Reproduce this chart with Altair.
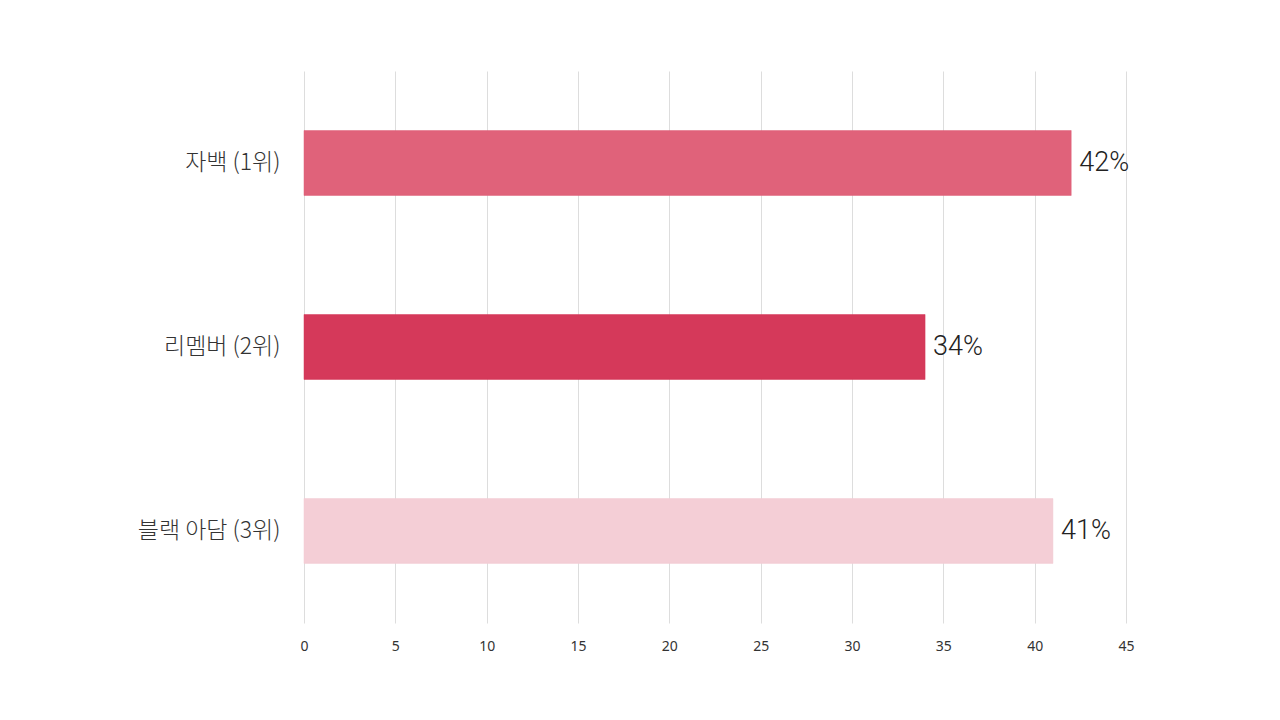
import altair as alt
import pandas as pd

categories = ["자백 (1위)", "리멤버 (2위)", "블랙 아담 (3위)"]
values = [42, 34, 41]
colors = ["#E0627A", "#D5395A", "#F4CED6"]
x_ticks = [0, 5, 10, 15, 20, 25, 30, 35, 40, 45]

df = pd.DataFrame({"cat": categories, "val": values, "color": colors,
                   "label": [f"{v}%" for v in values]})

y_enc = alt.Y("cat:N", sort=categories,
              scale=alt.Scale(paddingInner=0.647, paddingOuter=0.3235),
              axis=alt.Axis(title=None, domain=False, ticks=False,
                            labelFont="Noto Sans CJK KR", labelFontSize=23,
                            labelFontWeight=300,
                            labelColor="#333333", labelPadding=24))
x_enc = alt.X("val:Q", scale=alt.Scale(domain=[0, 45], nice=False),
              axis=alt.Axis(title=None, values=x_ticks, domain=False, ticks=False,
                            grid=True, gridColor="#dddddd", gridWidth=1,
                            labelFont="Noto Sans", labelFontSize=14,
                            labelFlush=False,
                            labelColor="#333333", labelPadding=16))

bars = alt.Chart(df).mark_bar(strokeWidth=1, strokeOpacity=0.5).encode(
    y=y_enc, x=x_enc,
    color=alt.Color("color:N", scale=None),
    stroke=alt.Color("color:N", scale=None),
)
text = alt.Chart(df).mark_text(align="left", baseline="middle", dx=8,
                               font="Roboto", fontSize=27, fontWeight=300,
                               color="#222222").encode(
    y=alt.Y("cat:N", sort=categories), x="val:Q", text="label:N")

chart = alt.layer(bars, text).properties(
    width=822, height=552,
    autosize=alt.AutoSizeParams(type="none"),
    padding={"left": 296, "top": 63, "right": 140, "bottom": 89},
).configure_view(stroke=None)

chart.save("out.html", embed_options={"renderer": "svg", "actions": False})
